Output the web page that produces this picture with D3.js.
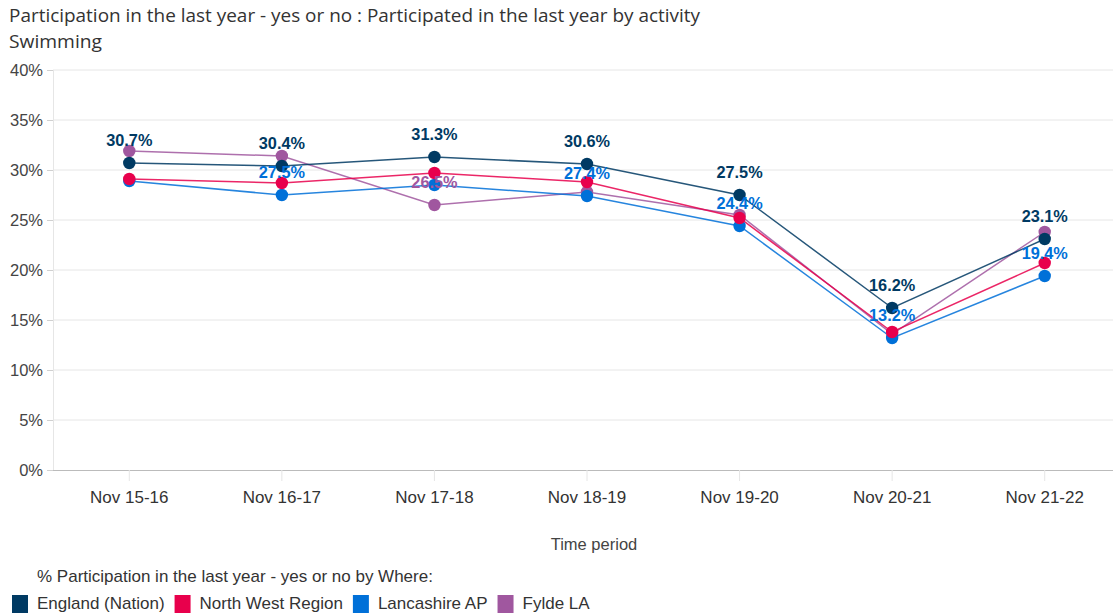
<!DOCTYPE html>
<html><head><meta charset="utf-8">
<script src="https://cdn.jsdelivr.net/npm/d3@7"></script>
<style>body{margin:0;background:#fff}svg{display:block}</style>
</head><body>
<svg id="c" width="1113" height="613"></svg>
<script>
(function(){
const categories = ["Nov 15-16","Nov 16-17","Nov 17-18","Nov 18-19","Nov 19-20","Nov 20-21","Nov 21-22"];
const seriesNames = ["England (Nation)","North West Region","Lancashire AP","Fylde LA"];
const england    = [30.7, 30.4, 31.3, 30.6, 27.5, 16.2, 23.1];
const northWest  = [29.1, 28.7, 29.7, 28.8, 25.2, 13.8, 20.7];
const lancashire = [28.9, 27.5, 28.5, 27.4, 24.4, 13.2, 19.4];
const fylde      = [31.9, 31.4, 26.5, 27.8, 25.5, 13.6, 23.8];
const colors = ["#003a63","#e8004c","#0070d8","#a0579f"];
const yTicks = [0,5,10,15,20,25,30,35,40];
const labelFlags = {
  england:    [1,1,1,1,1,1,1],
  lancashire: [0,1,0,1,1,1,1],
  fylde:      [0,0,1,0,0,0,0]
};

const series = [
  {name: seriesNames[3], values: fylde, color: colors[3], labels: labelFlags.fylde},
  {name: seriesNames[2], values: lancashire, color: colors[2], labels: labelFlags.lancashire},
  {name: seriesNames[1], values: northWest, color: colors[1], labels: null},
  {name: seriesNames[0], values: england, color: colors[0], labels: labelFlags.england}
];

const svg = d3.select("#c");
const mL = 53, mR = 1121, mT = 70, mB = 470;
const x = d3.scaleBand().domain(categories).range([mL, mR]);
const xc = d => x(d) + x.bandwidth()/2;
const y = d3.scaleLinear().domain([0,40]).range([mB, mT]);
const sans = "Liberation Sans, Arial, sans-serif";

svg.append("text").attr("x", 9).attr("y", 22).attr("font-family","Open Sans, sans-serif").attr("font-size", 18).attr("fill","#333")
  .attr("textLength", 691).attr("lengthAdjust","spacingAndGlyphs")
  .text("Participation in the last year - yes or no : Participated in the last year by activity");
svg.append("text").attr("x", 9).attr("y", 48).attr("font-family","Open Sans, sans-serif").attr("font-size", 18).attr("fill","#333")
  .attr("textLength", 93).attr("lengthAdjust","spacingAndGlyphs")
  .text("Swimming");

const g = svg.append("g");
g.selectAll(".grid").data(yTicks.filter(t=>t>0)).join("line")
  .attr("x1", mL).attr("x2", 1113).attr("y1", d=>y(d)).attr("y2", d=>y(d))
  .attr("stroke","#e6e6e6").attr("stroke-width",1);
g.append("line").attr("x1",mL+0.5).attr("x2",mL+0.5).attr("y1",mT).attr("y2",mB).attr("stroke","#e6e6e6");

const yAxis = d3.axisLeft(y).tickValues(yTicks).tickFormat(d=>d+"%").tickSize(6).tickPadding(4);
const ya = svg.append("g").attr("transform",`translate(${mL},0)`).call(yAxis);
ya.select(".domain").remove();
ya.selectAll(".tick line").attr("stroke","#d0d0d0");
ya.selectAll(".tick text").attr("font-family",sans).attr("font-size",16.5).attr("fill","#444");

const xAxis = d3.axisBottom(x).tickSize(11).tickPadding(10);
const xa = svg.append("g").attr("transform",`translate(0,${mB})`).call(xAxis);
xa.select(".domain").attr("stroke","#bbb").attr("d", `M${mL},0.5H1113`);
xa.selectAll(".tick line").attr("stroke","#e6e6e6");
xa.selectAll(".tick text").attr("font-family",sans).attr("font-size",17).attr("fill","#333");

svg.append("text").attr("x", 594).attr("y", 550).attr("text-anchor","middle")
  .attr("font-family",sans).attr("font-size",16.5).attr("fill","#444").text("Time period");

const line = d3.line().x((d,i)=>xc(categories[i])).y(d=>y(d));
series.forEach(s=>{
  svg.append("path").datum(s.values).attr("d", line).attr("fill","none")
    .attr("stroke", s.color).attr("stroke-width",1.5).attr("stroke-opacity",0.85);
});
series.forEach(s=>{
  svg.append("g").selectAll("circle").data(s.values).join("circle")
    .attr("cx",(d,i)=>xc(categories[i])).attr("cy", d=>y(d)).attr("r",6.2).attr("fill", s.color);
});
series.forEach(s=>{
  if(!s.labels) return;
  svg.append("g").selectAll("text").data(s.values.map((v,i)=>({v,i})).filter(d=>s.labels[d.i])).join("text")
    .attr("x", d=>xc(categories[d.i])).attr("y", d=>y(d.v)-17).attr("text-anchor","middle")
    .attr("font-family",sans).attr("font-weight","bold").attr("font-size",16.3)
    .attr("fill", s.color).text(d=>d.v.toFixed(1)+"%");
});

svg.append("text").attr("x",37).attr("y",582).attr("font-family",sans)
  .attr("font-size",17).attr("fill","#333").text("% Participation in the last year - yes or no by Where:");
let lx = 12;
seriesNames.forEach((n,i)=>{
  svg.append("rect").attr("x",lx).attr("y",595).attr("width",16).attr("height",18).attr("fill",colors[i]);
  const t = svg.append("text").attr("x",lx+25).attr("y",609).attr("font-family",sans)
    .attr("font-size",17).attr("fill","#333").text(n);
  lx += 25 + t.node().getComputedTextLength() + 10;
});
})();
</script>
</body></html>
